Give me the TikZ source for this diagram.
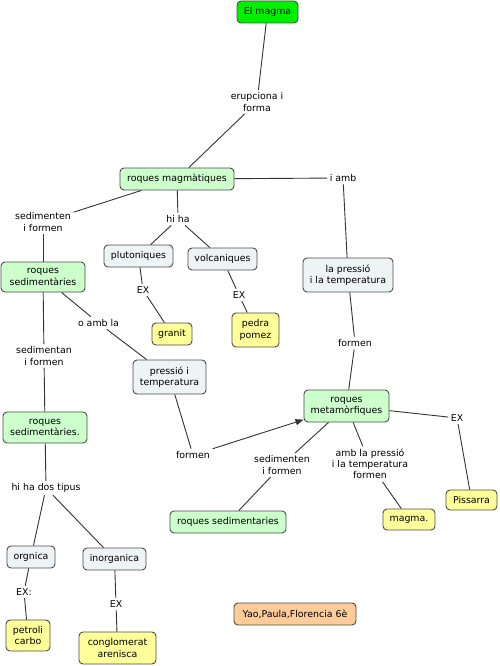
\documentclass[tikz,border=0pt]{standalone}
\usepackage{fontspec}
\setmainfont{DejaVu Sans}
\usetikzlibrary{arrows.meta}
\definecolor{cgreen}{HTML}{00F000}
\definecolor{clgreen}{HTML}{CCFFCC}
\definecolor{cgrey}{HTML}{EEF3F5}
\definecolor{cyellow}{HTML}{FFFF99}
\definecolor{corange}{HTML}{FFCC99}
\definecolor{cline}{HTML}{333333}
\tikzset{
  concept/.style={draw=black!70, rounded corners=4pt, line width=0.9pt, align=center, inner sep=0pt, font=\fontsize{9.4}{11.3}\selectfont},
  gn/.style={concept, fill=clgreen},
  gy/.style={concept, fill=cgrey},
  yl/.style={concept, fill=cyellow},
  lbl/.style={align=center, inner sep=2.5pt, font=\fontsize{9.4}{11.3}\selectfont},
  conn/.style={draw=cline, line width=0.9pt},
}
\begin{document}
\begin{tikzpicture}[x=1pt,y=-1pt]
\useasboundingbox (0,0) rectangle (500,666);
% concepts
\node[concept, fill=cgreen, minimum width=61pt, minimum height=22pt] (magma) at (267.5,12) {El magma};
\node[gn, minimum width=114pt, minimum height=22pt] (magm) at (177,179) {roques magmàtiques};
\node[gn, minimum width=84pt, minimum height=30pt] (sedA) at (43,277) {roques\\sedimentàries};
\node[gy, minimum width=69pt, minimum height=22pt] (plut) at (138.5,256) {plutoniques};
\node[gy, minimum width=69pt, minimum height=22pt] (volc) at (222.5,259) {volcaniques};
\node[yl, minimum width=40pt, minimum height=22pt] (granit) at (172,334) {granit};
\node[yl, minimum width=47pt, minimum height=34pt] (pomez) at (255.5,330) {pedra\\pomez};
\node[gy, minimum width=90pt, minimum height=34pt] (lapt) at (348,275) {la pressió\\i la temperatura};
\node[gn, minimum width=85pt, minimum height=32pt] (meta) at (346.5,406) {roques\\metamòrfiques};
\node[gy, minimum width=73pt, minimum height=34pt] (pit) at (169.5,377) {pressió i\\temperatura};
\node[gn, minimum width=84pt, minimum height=31pt] (sedB) at (45,427.5) {roques\\sedimentàries.};
\node[gy, minimum width=48pt, minimum height=22pt] (orgn) at (31,557) {orgnica};
\node[gy, minimum width=63pt, minimum height=22pt] (inorg) at (114.5,559) {inorganica};
\node[yl, minimum width=44pt, minimum height=31pt] (petroli) at (28,635.5) {petroli\\carbo};
\node[yl, minimum width=77pt, minimum height=32pt] (congl) at (117.5,648) {conglomerat\\arenisca};
\node[gn, minimum width=116pt, minimum height=22pt] (sedC) at (228,522) {roques sedimentaries};
\node[yl, minimum width=52pt, minimum height=21pt] (magmb) at (409,519.5) {magma.};
\node[yl, minimum width=51pt, minimum height=20pt] (piss) at (471.5,500) {Pissarra};
\node[concept, fill=corange, minimum width=122pt, minimum height=22pt] (yao) at (295,614) {Yao,Paula,Florencia 6è};
% linking phrases
\node[lbl] (l1) at (257,102) {erupciona i\\forma};
\node[lbl] (l2) at (343,178) {i amb};
\node[lbl] (l3) at (43,222) {sedimenten\\i formen};
\node[lbl] (l4) at (178,219) {hi ha};
\node[lbl] (l5) at (143,290) {EX};
\node[lbl] (l6) at (239,295) {EX};
\node[lbl] (l7) at (355,343) {formen};
\node[lbl] (l8) at (98.5,323) {o amb la};
\node[lbl] (l9) at (44,356) {sedimentan\\i formen};
\node[lbl] (l10) at (193,455) {formen};
\node[lbl] (l11) at (46,488) {hi ha dos tipus};
\node[lbl] (l12) at (24,592) {EX:};
\node[lbl] (l13) at (116,604) {EX};
\node[lbl] (l14) at (282,465) {sedimenten\\i formen};
\node[lbl] (l15) at (370,464) {amb la pressió\\i la temperatura\\formen};
\node[lbl] (l16) at (457,418) {EX};
% connectors
\path[conn] (magma) -- (l1);
\path[conn] (l1) -- (magm);
\path[conn] (magm) -- (l2);
\path[conn] (l2) -- (lapt);
\path[conn] (magm) -- (l3);
\path[conn] (l3) -- (sedA);
\path[conn] (magm) -- (l4);
\path[conn] (l4) -- (plut);
\path[conn] (l4) -- (volc);
\path[conn] (plut) -- (l5);
\path[conn] (l5) -- (granit);
\path[conn] (volc) -- (l6);
\path[conn] (l6) -- (pomez);
\path[conn] (lapt) -- (l7);
\path[conn] (l7) -- (meta);
\path[conn] (sedA) -- (l8);
\path[conn] (l8) -- (pit);
\path[conn] (sedA) -- (l9);
\path[conn] (l9) -- (sedB);
\path[conn] (pit) -- (l10);
\path[conn, -{Triangle[length=8pt,width=6pt]}] (l10) -- (meta);
\path[conn] (sedB) -- (l11);
\path[conn] (l11) -- (orgn);
\path[conn] (l11) -- (inorg);
\path[conn] (orgn) -- (l12);
\path[conn] (l12) -- (petroli);
\path[conn] (inorg) -- (l13);
\path[conn] (l13) -- (congl);
\path[conn] (meta) -- (l14);
\path[conn] (l14) -- (sedC);
\path[conn] (meta) -- (l15);
\path[conn] (l15) -- (magmb);
\path[conn] (meta) -- (l16);
\path[conn] (l16) -- (piss);
\end{tikzpicture}
\end{document}
